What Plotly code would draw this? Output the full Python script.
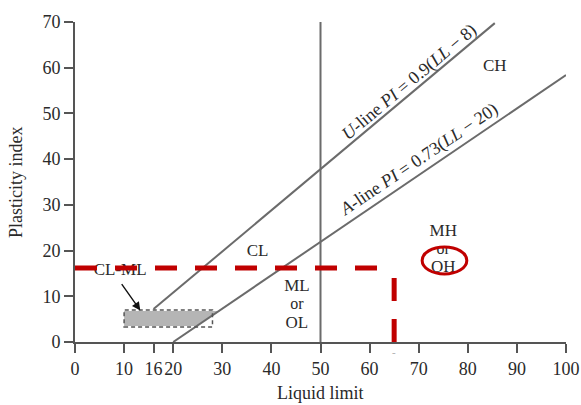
import plotly.graph_objects as go

# ---- data ----
x_ticks = [0, 10, 16, 20, 30, 40, 50, 60, 70, 80, 90, 100]
y_ticks = [0, 10, 20, 30, 40, 50, 60, 70]

u_line_ll = [16, 85.5]
u_line_pi = [0.9 * (v - 8) for v in u_line_ll]
a_line_ll = [20, 100]
a_line_pi = [0.73 * (v - 20) for v in a_line_ll]
ll50_ll = [50, 50]
ll50_pi = [0, 70]

clml_fill_ll = [10, 24.8, 29.3, 10]
clml_fill_pi = [3.5, 3.5, 6.8, 6.8]
clml_box_ll = [10, 28]
clml_box_pi = [3.3, 7.0]

sample_ll = 65
sample_pi = 16.2
red_h_ll = [0, 63]
red_h_pi = [sample_pi, sample_pi]
red_v_ll = [sample_ll, sample_ll]
red_v_pi = [14, 0]

zone_labels = ["CH", "CL", "ML", "or", "OL", "MH", "or", "OH"]
zone_ll = [85.5, 37.2, 45.2, 45.2, 45.2, 75, 75, 75]
zone_pi = [60.2, 19.7, 12.1, 8.2, 4.1, 24.1, 20.2, 16.3]
zone_size = [17, 17, 17, 16, 17, 17, 16, 17]

serif = "Liberation Serif, Times New Roman, serif"
txt = "#2a2a2a"
gray = "#6b6b6b"
red = "#c00000"

fig = go.Figure()

# CL-ML shaded zone
fig.add_trace(go.Scatter(x=clml_fill_ll, y=clml_fill_pi, fill="toself", mode="lines",
                         fillcolor="#b5b5b5", line=dict(width=0), hoverinfo="skip", showlegend=False))
fig.add_shape(type="rect", x0=clml_box_ll[0], x1=clml_box_ll[1], y0=clml_box_pi[0], y1=clml_box_pi[1],
              line=dict(color="#555555", width=1.5, dash="4px,3px"), fillcolor="rgba(0,0,0,0)", layer="above")

# reference lines
for xs, ys in [(u_line_ll, u_line_pi), (a_line_ll, a_line_pi), (ll50_ll, ll50_pi)]:
    fig.add_trace(go.Scatter(x=xs, y=ys, mode="lines", line=dict(color=gray, width=2),
                             hoverinfo="skip", showlegend=False))

# zone labels
fig.add_trace(go.Scatter(x=zone_ll, y=zone_pi, mode="text", text=zone_labels,
                         textfont=dict(family=serif, size=zone_size, color=txt),
                         hoverinfo="skip", showlegend=False))
fig.add_trace(go.Scatter(x=[9.2], y=[15.6], mode="text", text=["CL-ML"],
                         textfont=dict(family=serif, size=17, color=txt),
                         hoverinfo="skip", showlegend=False))

# red sample lines
fig.add_trace(go.Scatter(x=red_h_ll, y=red_h_pi, mode="lines",
                         line=dict(color=red, width=5, dash="22px,18px"),
                         hoverinfo="skip", showlegend=False))
fig.add_trace(go.Scatter(x=red_v_ll, y=red_v_pi, mode="lines",
                         line=dict(color=red, width=5, dash="23px,18px"),
                         hoverinfo="skip", showlegend=False))
fig.add_shape(type="circle", x0=70.7, x1=79.8, y0=14.9, y1=20.8,
              line=dict(color=red, width=3), layer="above")

# arrow for CL-ML
fig.add_annotation(x=13.3, y=6.9, ax=9.3, ay=13.0, axref="x", ayref="y", text="",
                   showarrow=True, arrowhead=2, arrowsize=1.2, arrowwidth=1.4, arrowcolor="#111111")

# rotated line labels
fig.add_annotation(x=(409 - 75) / 4.91, y=(342 - 83) / 4.57, showarrow=False, textangle=-40,
                   text="<i>U</i>-line <i>PI</i> = 0.9(<i>LL</i> − 8)",
                   font=dict(family=serif, size=18, color=txt))
fig.add_annotation(x=(419 - 75) / 4.91, y=(342 - 160) / 4.57, showarrow=False, textangle=-34,
                   text="<i>A</i>-line <i>PI</i> = 0.73(<i>LL</i> − 20)",
                   font=dict(family=serif, size=18, color=txt))

# small mark under axis
fig.add_annotation(x=sample_ll, y=-0.055, yref="paper", showarrow=False, text="-",
                   font=dict(family=serif, size=11, color="#aaaaaa"))

# axis titles
fig.add_annotation(x=50, y=-0.16, yref="paper", showarrow=False, text="Liquid limit",
                   font=dict(family=serif, size=18, color=txt), yanchor="middle", xanchor="center")
fig.add_annotation(x=(16 - 75) / 491, xref="paper", y=0.5, yref="paper", showarrow=False, textangle=-90,
                   xanchor="center", yanchor="middle",
                   text="Plasticity index", font=dict(family=serif, size=18, color=txt))

axis_common = dict(showgrid=False, zeroline=False, showline=True, linecolor="#555555", linewidth=2,
                   ticks="outside", ticklen=9, tickwidth=2, tickcolor="#555555", tickangle=0,
                   automargin=False,
                   tickfont=dict(family=serif, size=18, color=txt))
fig.update_xaxes(range=[0, 100], tickvals=x_ticks, ticktext=[str(v) for v in x_ticks], **axis_common)
fig.update_yaxes(range=[0, 70], tickvals=y_ticks, ticktext=[str(v) for v in y_ticks], **axis_common)

fig.update_layout(width=581, height=405, margin=dict(l=75, r=15, t=22, b=63),
                  paper_bgcolor="white", plot_bgcolor="white", showlegend=False)

fig.write_html("out.html")
